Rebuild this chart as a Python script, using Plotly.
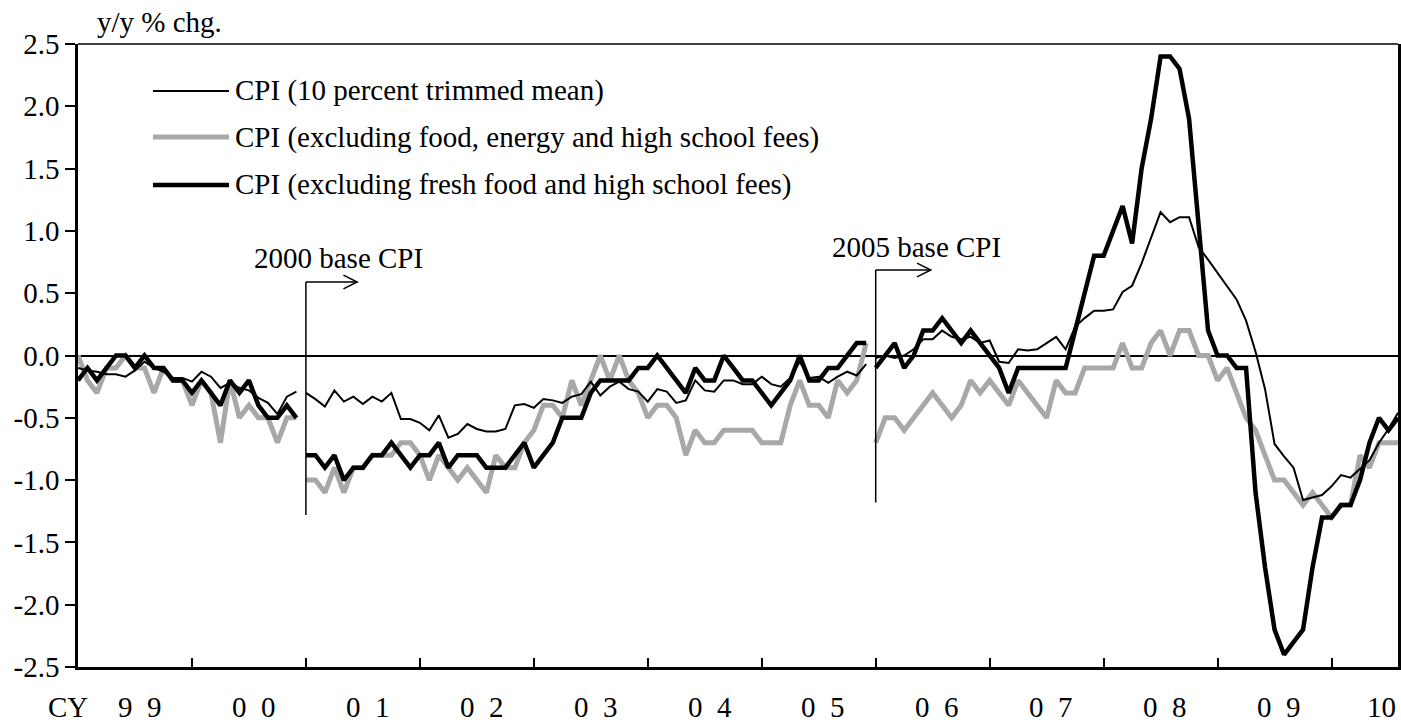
import plotly.graph_objects as go

# ---------------- data (y/y % chg., monthly Jan 1999 - Aug 2010) ----------------
months = [f"{y}-{m:02d}" for y in range(1999, 2011) for m in range(1, 13)][:140]

# CPI (10 percent trimmed mean)
trim_95base = [-0.10, -0.12, -0.13, -0.15, -0.15, -0.17, -0.12, -0.05, -0.10, -0.13, -0.18, -0.18,
               -0.21, -0.13, -0.17, -0.26, -0.22, -0.26, -0.28, -0.34, -0.38, -0.47, -0.33, -0.29]
trim_00base = [-0.30, -0.35, -0.41, -0.28, -0.37, -0.33, -0.39, -0.33, -0.37, -0.30, -0.51, -0.51,
               -0.54, -0.60, -0.48, -0.66, -0.63, -0.55, -0.59, -0.61, -0.61, -0.59, -0.40, -0.39,
               -0.42, -0.35, -0.36, -0.38, -0.33, -0.31, -0.21, -0.32, -0.25, -0.21, -0.27, -0.29,
               -0.37, -0.27, -0.29, -0.38, -0.36, -0.20, -0.28, -0.29, -0.20, -0.20, -0.23, -0.23,
               -0.17, -0.23, -0.25, -0.18, -0.05, -0.18, -0.17, -0.22, -0.17, -0.13, -0.16, -0.07]
trim_05base = [-0.02, 0.00, -0.02, 0.00, 0.05, 0.13, 0.13, 0.20, 0.15, 0.13, 0.15, 0.10,
               0.12, -0.05, -0.06, 0.05, 0.04, 0.05, 0.10, 0.15, 0.05, 0.23, 0.30, 0.36,
               0.36, 0.37, 0.51, 0.56, 0.74, 0.94, 1.15, 1.07, 1.11, 1.11, 0.87, 0.77,
               0.66, 0.55, 0.45, 0.28, 0.03, -0.27, -0.71, -0.81, -0.90, -1.16, -1.14, -1.12,
               -1.05, -0.96, -0.98, -0.91, -0.84, -0.70, -0.59, -0.46]

# CPI (excluding food, energy and high school fees)
exfe_95base = [0.0, -0.2, -0.3, -0.1, -0.1, 0.0, -0.1, -0.1, -0.3, -0.1, -0.2, -0.2,
               -0.4, -0.2, -0.3, -0.7, -0.2, -0.5, -0.4, -0.5, -0.5, -0.7, -0.5, -0.5]
exfe_00base = [-1.0, -1.0, -1.1, -0.9, -1.1, -0.9, -0.9, -0.8, -0.8, -0.8, -0.7, -0.7,
               -0.8, -1.0, -0.8, -0.9, -1.0, -0.9, -1.0, -1.1, -0.8, -0.9, -0.9, -0.7,
               -0.6, -0.4, -0.4, -0.5, -0.2, -0.4, -0.2, 0.0, -0.2, 0.0, -0.2, -0.3,
               -0.5, -0.4, -0.4, -0.5, -0.8, -0.6, -0.7, -0.7, -0.6, -0.6, -0.6, -0.6,
               -0.7, -0.7, -0.7, -0.4, -0.2, -0.4, -0.4, -0.5, -0.2, -0.3, -0.2, 0.1]
exfe_05base = [-0.7, -0.5, -0.5, -0.6, -0.5, -0.4, -0.3, -0.4, -0.5, -0.4, -0.2, -0.3,
               -0.2, -0.3, -0.4, -0.2, -0.3, -0.4, -0.5, -0.2, -0.3, -0.3, -0.1, -0.1,
               -0.1, -0.1, 0.1, -0.1, -0.1, 0.1, 0.2, 0.0, 0.2, 0.2, 0.0, 0.0,
               -0.2, -0.1, -0.3, -0.5, -0.6, -0.8, -1.0, -1.0, -1.1, -1.2, -1.1, -1.2,
               -1.3, -1.2, -1.2, -0.8, -0.9, -0.7, -0.7, -0.7]

# CPI (excluding fresh food and high school fees)
core_95base = [-0.2, -0.1, -0.2, -0.1, 0.0, 0.0, -0.1, 0.0, -0.1, -0.1, -0.2, -0.2,
               -0.3, -0.2, -0.3, -0.4, -0.2, -0.3, -0.2, -0.4, -0.5, -0.5, -0.4, -0.5]
core_00base = [-0.8, -0.8, -0.9, -0.8, -1.0, -0.9, -0.9, -0.8, -0.8, -0.7, -0.8, -0.9,
               -0.8, -0.8, -0.7, -0.9, -0.8, -0.8, -0.8, -0.9, -0.9, -0.9, -0.8, -0.7,
               -0.9, -0.8, -0.7, -0.5, -0.5, -0.5, -0.3, -0.2, -0.2, -0.2, -0.2, -0.1,
               -0.1, 0.0, -0.1, -0.2, -0.3, -0.1, -0.2, -0.2, 0.0, -0.1, -0.2, -0.2,
               -0.3, -0.4, -0.3, -0.2, 0.0, -0.2, -0.2, -0.1, -0.1, 0.0, 0.1, 0.1]
core_05base = [-0.1, 0.0, 0.1, -0.1, 0.0, 0.2, 0.2, 0.3, 0.2, 0.1, 0.2, 0.1,
               0.0, -0.1, -0.3, -0.1, -0.1, -0.1, -0.1, -0.1, -0.1, 0.2, 0.5, 0.8,
               0.8, 1.0, 1.2, 0.9, 1.5, 1.9, 2.4, 2.4, 2.3, 1.9, 1.0, 0.2,
               0.0, 0.0, -0.1, -0.1, -1.1, -1.7, -2.2, -2.4, -2.3, -2.2, -1.7, -1.3,
               -1.3, -1.2, -1.2, -1.0, -0.7, -0.5, -0.6, -0.5]

series_names = ["CPI (10 percent trimmed mean)",
                "CPI (excluding food, energy and high school fees)",
                "CPI (excluding fresh food and high school fees)"]

year_labels = ["9\u20029", "0\u20020", "0\u20021", "0\u20022", "0\u20023", "0\u20024",
               "0\u20025", "0\u20026", "0\u20027", "0\u20028", "0\u20029", "10"]

y_ticks = [2.5, 2.0, 1.5, 1.0, 0.5, 0.0, -0.5, -1.0, -1.5, -2.0, -2.5]

# ---------------- helpers ----------------
FONT = "Liberation Serif"
FS = 29
GREY = "#a8a8a8"

n95, n00 = len(trim_95base), len(trim_00base)
idx = list(range(len(months)))


def joined(a, b, c):
    """Concatenate the three base-year segments with line breaks between them."""
    xs = idx[:n95] + [None] + idx[n95:n95 + n00] + [None] + idx[n95 + n00:]
    ys = a + [None] + b + [None] + c
    return xs, ys


fig = go.Figure()

x, y = joined(exfe_95base, exfe_00base, exfe_05base)
fig.add_trace(go.Scatter(x=x, y=y, mode="lines", name=series_names[1],
                         line=dict(color=GREY, width=5), connectgaps=False))
x, y = joined(trim_95base, trim_00base, trim_05base)
fig.add_trace(go.Scatter(x=x, y=y, mode="lines", name=series_names[0],
                         line=dict(color="black", width=2), connectgaps=False))
x, y = joined(core_95base, core_00base, core_05base)
fig.add_trace(go.Scatter(x=x, y=y, mode="lines", name=series_names[2],
                         line=dict(color="black", width=4.5), connectgaps=False))

shapes = []
annotations = []

# top frame line
shapes.append(dict(type="line", xref="paper", yref="paper", x0=0, x1=1, y0=1, y1=1,
                   line=dict(color="black", width=1.5)))

# manual legend
leg_rows = [0.9246, 0.8507, 0.7737]
leg_styles = [dict(color="black", width=2), dict(color=GREY, width=5), dict(color="black", width=4.5)]
for row, name, st in zip(leg_rows, series_names, leg_styles):
    shapes.append(dict(type="line", xref="paper", yref="paper", x0=0.0568, x1=0.1144,
                       y0=row, y1=row, line=st))
    annotations.append(dict(text=name, xref="paper", yref="paper", x=0.1174, y=row,
                            xanchor="left", yanchor="middle", showarrow=False,
                            font=dict(family=FONT, size=FS, color="black")))

# base-change brackets
brackets = [dict(x=n95, top=0.59, bottom=-1.28, length=5.4, label="2000 base CPI",
                 lx=0.1315, ly=0.6565),
            dict(x=n95 + n00, top=0.686, bottom=-1.18, length=5.8, label="2005 base CPI",
                 lx=0.5700, ly=0.6734)]
for b in brackets:
    ln = dict(color="black", width=1.5)
    shapes.append(dict(type="line", xref="x", yref="y", x0=b["x"], x1=b["x"],
                       y0=b["bottom"], y1=b["top"], line=ln))
    tip = b["x"] + b["length"]
    shapes.append(dict(type="line", xref="x", yref="y", x0=b["x"], x1=tip,
                       y0=b["top"], y1=b["top"], line=ln))
    shapes.append(dict(type="path", xref="x", yref="y",
                       path=f"M {tip - 1.45},{b['top'] + 0.055} L {tip},{b['top']} L {tip - 1.45},{b['top'] - 0.055}",
                       line=ln))
    annotations.append(dict(text=b["label"], xref="paper", yref="paper", x=b["lx"], y=b["ly"],
                            xanchor="left", yanchor="middle", showarrow=False,
                            font=dict(family=FONT, size=FS, color="black")))

# axis title
annotations.append(dict(text="y/y % chg.", xref="paper", yref="paper", x=0.0130, y=1.036,
                        xanchor="left", yanchor="middle", showarrow=False,
                        font=dict(family=FONT, size=FS, color="black")))

# x labels
label_y = -0.0642
annotations.append(dict(text="CY", xref="paper", yref="paper", x=-0.0076, y=label_y,
                        xanchor="center", yanchor="middle", showarrow=False,
                        font=dict(family=FONT, size=FS, color="black")))
label_pos = [12 * k + 6.5 for k in range(len(year_labels) - 1)] + [137.3]
for pos, lab in zip(label_pos, year_labels):
    annotations.append(dict(text=lab, xref="x", yref="paper", x=pos, y=label_y,
                            xanchor="center", yanchor="middle", showarrow=False,
                            font=dict(family=FONT, size=FS, color="black")))

fig.update_layout(
    width=1401, height=722,
    margin=dict(l=78, r=3, t=44, b=55),
    paper_bgcolor="white", plot_bgcolor="white",
    showlegend=False,
    shapes=shapes, annotations=annotations,
    font=dict(family=FONT, size=FS, color="black"),
    xaxis=dict(range=[0, len(months) - 1], showgrid=False, zeroline=False,
               showline=True, linecolor="black", linewidth=2.5,
               ticks="inside", tickvals=list(range(12, len(months), 12)),
               ticklen=9, tickwidth=2, tickcolor="black",
               showticklabels=False, automargin=False),
    yaxis=dict(range=[-2.5, 2.5], showgrid=False,
               zeroline=True, zerolinecolor="black", zerolinewidth=2,
               showline=True, linecolor="black", linewidth=2.5, mirror=True,
               ticks="outside", ticklen=10, tickwidth=1.5, tickcolor="black",
               tickvals=y_ticks, ticktext=[f"{v:.1f}" for v in y_ticks],
               tickfont=dict(family=FONT, size=FS, color="black"),
               ticklabelstandoff=0, automargin=False),
)

fig.write_html("out.html", config={"displayModeBar": False},
               post_script="document.body.style.margin='0px';")
